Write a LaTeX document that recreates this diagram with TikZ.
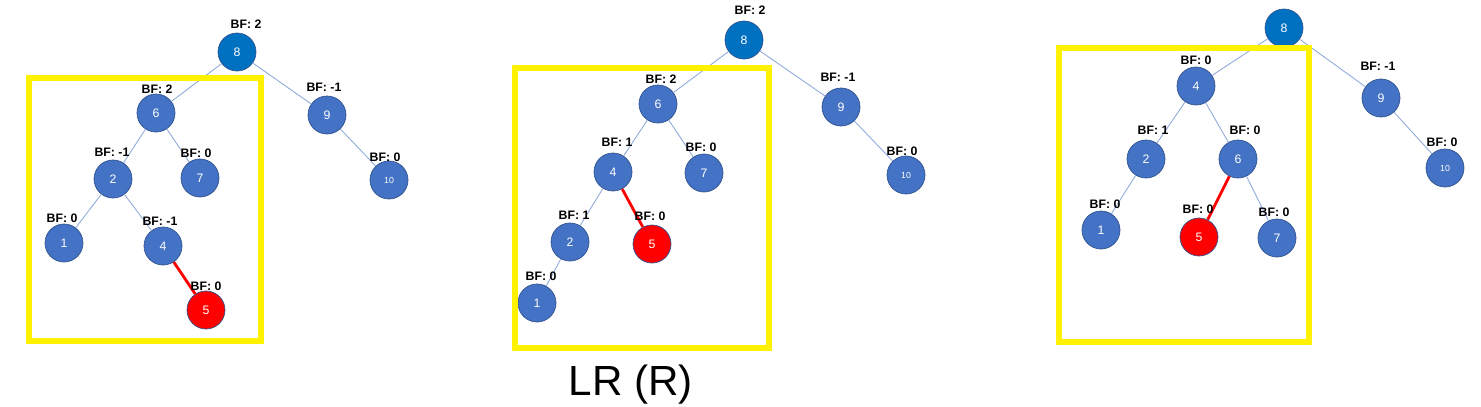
\documentclass[tikz,border=0pt]{standalone}
\usepackage{fontspec}
\setmainfont{Liberation Sans}
\usetikzlibrary{positioning}
\definecolor{nodeblue}{HTML}{4472C4}
\definecolor{rootblue}{HTML}{0070C0}
\definecolor{rimblue}{HTML}{2F528F}
\definecolor{edgeblue}{HTML}{8FAADC}
\tikzstyle{node}=[circle,inner sep=0mm,minimum size=7.6mm,draw=rimblue,fill=nodeblue,text=white,font=\scriptsize]
\tikzstyle{root}=[node,fill=rootblue]
\tikzstyle{hot}=[node,fill=red,draw=rimblue]
\tikzstyle{bf}=[inner sep=0pt,font=\scriptsize\bfseries]
\tikzstyle{edge}=[draw=edgeblue,line width=0.5pt]
\tikzstyle{redge}=[draw=red,line width=1.6pt]
\tikzstyle{frame}=[draw=yellow,line width=3pt]

\begin{document}
\begin{tikzpicture}[x=0.02cm,y=-0.02cm]
  \useasboundingbox (0,0) rectangle (1481,406);

  % first tree
  \node [root] at (237,52)  (a8) {8};
  \node [node] at (156,113) (a6) {6};
  \node [node] at (327,115) (a9) {9};
  \node [node] at (113,179) (a2) {2};
  \node [node] at (200,178) (a7) {7};
  \node [node] at (389,180) (a10) {\tiny 10};
  \node [node] at (64,243)  (a1) {1};
  \node [node] at (163,246) (a4) {4};
  \node [hot]  at (206,310) (a5) {5};

  \draw [edge] (a8) to (a6);
  \draw [edge] (a8) to (a9);
  \draw [edge] (a6) to (a2);
  \draw [edge] (a6) to (a7);
  \draw [edge] (a9) to (a10);
  \draw [edge] (a2) to (a1);
  \draw [edge] (a2) to (a4);
  \draw [redge] (a4) to (a5);

  \node [bf] at (246,24)  (bfa8) {BF:\ 2};
  \node [bf] at (157,89)  (bfa6) {BF:\ 2};
  \node [bf] at (324,87)  (bfa9) {BF:\ -1};
  \node [bf] at (112,152) (bfa2) {BF:\ -1};
  \node [bf] at (196,153) (bfa7) {BF:\ 0};
  \node [bf] at (62,218)  (bfa1) {BF:\ 0};
  \node [bf] at (160,221) (bfa4) {BF:\ -1};
  \node [bf] at (206,286) (bfa5) {BF:\ 0};
  \node [bf] at (385,157) (bfa10) {BF:\ 0};

  \draw [frame] (29,78) rectangle (261,341);

  % second tree
  \node [root] at (744,40)  (b8) {8};
  \node [node] at (658,104) (b6) {6};
  \node [node] at (841,107) (b9) {9};
  \node [node] at (613,172) (b4) {4};
  \node [node] at (704,173) (b7) {7};
  \node [node] at (906,175) (b10) {\tiny 10};
  \node [node] at (570,242) (b2) {2};
  \node [hot]  at (652,244) (b5) {5};
  \node [node] at (537,303) (b1) {1};

  \draw [edge] (b8) to (b6);
  \draw [edge] (b8) to (b9);
  \draw [edge] (b6) to (b4);
  \draw [edge] (b6) to (b7);
  \draw [edge] (b9) to (b10);
  \draw [edge] (b4) to (b2);
  \draw [redge] (b4) to (b5);
  \draw [edge] (b2) to (b1);

  \node [bf] at (750,10)  (bfb8) {BF:\ 2};
  \node [bf] at (661,79)  (bfb6) {BF:\ 2};
  \node [bf] at (838,77)  (bfb9) {BF:\ -1};
  \node [bf] at (617,142) (bfb4) {BF:\ 1};
  \node [bf] at (701,147) (bfb7) {BF:\ 0};
  \node [bf] at (574,215) (bfb2) {BF:\ 1};
  \node [bf] at (650,216) (bfb5) {BF:\ 0};
  \node [bf] at (541,276) (bfb1) {BF:\ 0};
  \node [bf] at (902,151) (bfb10) {BF:\ 0};

  \draw [frame] (515,68) rectangle (769,348);
  \node [font=\fontsize{24}{28}\selectfont] at (631,385) (title) {LR (R)};

  % third tree
  \node [root] at (1284,28)  (c8) {8};
  \node [node] at (1196,86)  (c4) {4};
  \node [node] at (1381,98)  (c9) {9};
  \node [node] at (1146,159) (c2) {2};
  \node [node] at (1238,159) (c6) {6};
  \node [node] at (1445,168) (c10) {\tiny 10};
  \node [node] at (1101,230) (c1) {1};
  \node [hot]  at (1199,237) (c5) {5};
  \node [node] at (1277,238) (c7) {7};

  \draw [edge] (c8) to (c4);
  \draw [edge] (c8) to (c9);
  \draw [edge] (c4) to (c2);
  \draw [edge] (c4) to (c6);
  \draw [edge] (c9) to (c10);
  \draw [edge] (c2) to (c1);
  \draw [redge] (c6) to (c5);
  \draw [edge] (c6) to (c7);

  \node [bf] at (1196,60)  (bfc4) {BF:\ 0};
  \node [bf] at (1378,66)  (bfc9) {BF:\ -1};
  \node [bf] at (1153,130) (bfc2) {BF:\ 1};
  \node [bf] at (1245,130) (bfc6) {BF:\ 0};
  \node [bf] at (1105,204) (bfc1) {BF:\ 0};
  \node [bf] at (1198,209) (bfc5) {BF:\ 0};
  \node [bf] at (1274,212) (bfc7) {BF:\ 0};
  \node [bf] at (1442,142) (bfc10) {BF:\ 0};

  \draw [frame] (1059,48) rectangle (1309,342);
\end{tikzpicture}
\end{document}
